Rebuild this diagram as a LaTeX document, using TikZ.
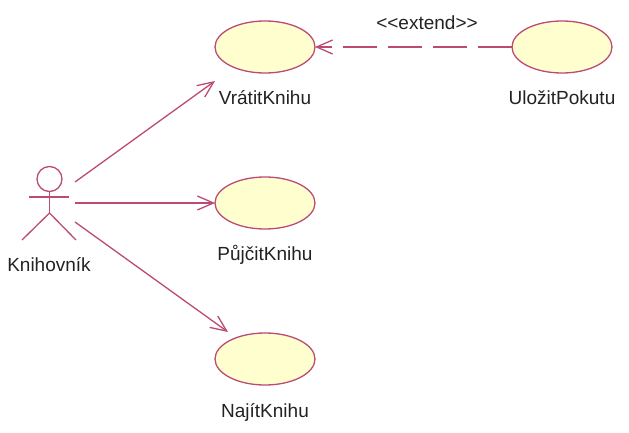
\documentclass[tikz,border=0pt]{standalone}
\usepackage{fontspec}
\setmainfont{Liberation Sans}
\usetikzlibrary{shapes.geometric,arrows.meta}
\definecolor{umlline}{HTML}{BC4A74}
\definecolor{umlfill}{HTML}{FEFECE}
\definecolor{umltext}{HTML}{222222}
\tikzset{
  usecase/.style={ellipse,draw=umlline,fill=umlfill,line width=1.3pt,minimum width=100pt,minimum height=52pt,inner sep=0pt,outer sep=0pt},
  umllabel/.style={text=umltext,font=\fontsize{19}{21}\selectfont,inner sep=0pt},
  assoc/.style={draw=umlline,line width=1.3pt,-{Straight Barb[length=16pt,width=14pt,line width=1.3pt]}},
  limb/.style={draw=umlline,line width=1.3pt},
  extendline/.style={assoc,dash pattern=on 34pt off 11pt}
}
\begin{document}
\begin{tikzpicture}[x=1pt,y=-1pt]
\useasboundingbox (0,0) rectangle (629,433);
\node[usecase] (vratit) at (265,47) {};
\node[usecase] (ulozit) at (562,47) {};
\node[usecase] (pujcit) at (265,203) {};
\node[usecase] (najit) at (265,359) {};
\node[umllabel] (lvratit) at (265,98) {VrátitKnihu};
\node[umllabel] (lulozit) at (562,98) {UložitPokutu};
\node[umllabel] (lpujcit) at (265,255) {PůjčitKnihu};
\node[umllabel] (lnajit) at (265,412) {NajítKnihu};
\node[umllabel] (lactor) at (49,265) {Knihovník};
\node[umllabel] (lext) at (427,23) {<{}<extend>{}>};
% actor
\node[circle,draw=umlline,line width=1.3pt,minimum size=25pt,inner sep=0pt,outer sep=0pt] (head) at (49.5,179) {};
\coordinate (armL) at (29,197);
\coordinate (armR) at (69,197);
\coordinate (hip) at (49.5,213);
\coordinate (legL) at (22,240);
\coordinate (legR) at (76,240);
\draw[limb] (head.south) -- (hip);
\draw[limb] (armL) -- (armR);
\draw[limb] (legL) -- (hip) -- (legR);
% connectors
\coordinate (a1) at (75,182);
\coordinate (a2) at (75,203);
\coordinate (a3) at (75,222);
\coordinate (t1) at (215,81);
\coordinate (t3) at (228,332);
\draw[assoc] (a1) -- (t1);
\draw[assoc] (a2) -- (pujcit.west);
\draw[assoc] (a3) -- (t3);
\draw[extendline] (ulozit.west) -- (vratit.east);
\end{tikzpicture}
\end{document}
